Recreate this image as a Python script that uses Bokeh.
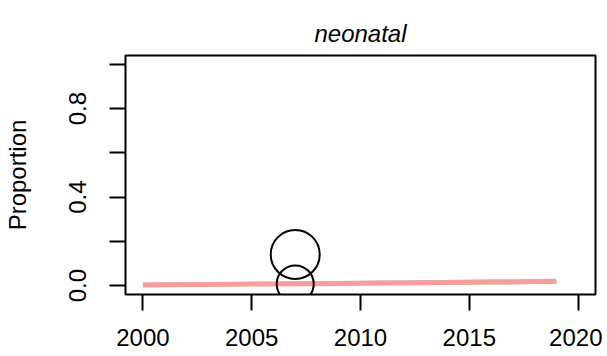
from bokeh.plotting import figure
from bokeh.models import Range1d, FixedTicker
from bokeh.embed import file_html
from bokeh.resources import INLINE

# ---- data ----
years = list(range(2000, 2020))
pink_vals = [0.003, 0.004, 0.005, 0.005, 0.006, 0.007, 0.008, 0.009, 0.009, 0.010,
             0.011, 0.012, 0.012, 0.013, 0.014, 0.015, 0.016, 0.017, 0.019, 0.020]
green_vals = [0.003, 0.004, 0.004, 0.005, 0.006, 0.007, 0.007, 0.008, 0.009, 0.010,
              0.010, 0.011, 0.012, 0.012, 0.013, 0.014, 0.015, 0.016, 0.017, 0.017]
blue_vals = [0.004, 0.005, 0.005, 0.006, 0.007, 0.008, 0.009, 0.010, 0.011, 0.012,
             0.013, 0.014, 0.015, 0.016, 0.017, 0.018, 0.019, 0.019, 0.020, 0.020]
point_years = [2007, 2007]
point_vals = [0.141, 0.008]
point_sizes = [49, 37]

x_ticks = [2000, 2005, 2010, 2015, 2020]
y_ticks = [0, 0.2, 0.4, 0.6, 0.8, 1.0]
y_tick_labels = {0: "0.0", 0.2: "", 0.4: "0.4", 0.6: "", 0.8: "0.8", 1.0: ""}

FONT = "Liberation Sans"

p = figure(frame_width=470, frame_height=239,
           min_border_left=122, min_border_right=7,
           min_border_top=55, min_border_bottom=61,
           x_range=Range1d(1999.2, 2020.8), y_range=Range1d(-0.04, 1.04),
           output_backend="svg", toolbar_location=None,
           title="neonatal")

p.title.align = "center"
p.title.text_font = FONT
p.title.text_font_size = "24px"
p.title.text_font_style = "italic"
p.title.text_color = "black"
p.title.standoff = 17

p.outline_line_color = "black"
p.outline_line_width = 2
p.background_fill_color = "white"
p.border_fill_color = "white"
p.xgrid.visible = False
p.ygrid.visible = False

for ax in (p.xaxis[0], p.yaxis[0]):
    ax.axis_line_color = None
    ax.major_tick_line_color = "black"
    ax.major_tick_line_width = 2
    ax.major_tick_out = 16
    ax.major_tick_in = 0
    ax.minor_tick_line_color = None
    ax.major_label_text_font = FONT
    ax.major_label_text_font_size = "24px"
    ax.major_label_text_color = "black"

p.xaxis.ticker = FixedTicker(ticks=x_ticks)
p.xaxis.major_label_overrides = {t: str(t) for t in x_ticks}
p.xaxis.major_label_standoff = 18

p.yaxis.ticker = FixedTicker(ticks=y_ticks)
p.yaxis.major_label_overrides = y_tick_labels
p.yaxis.major_label_orientation = "vertical"
p.yaxis.major_label_standoff = 23
p.yaxis.axis_label = "Proportion"
p.yaxis.axis_label_text_font = FONT
p.yaxis.axis_label_text_font_size = "24px"
p.yaxis.axis_label_text_font_style = "normal"
p.yaxis.axis_label_text_color = "black"
p.yaxis.axis_label_standoff = 36

p.line(years, blue_vals, line_color="#A9C8EC", line_width=4, line_alpha=0.9)
p.line(years, green_vals, line_color="#9ACD8E", line_width=4, line_alpha=0.9)
p.line(years, pink_vals, line_color="#F89C9C", line_width=5)

p.scatter(point_years, point_vals, size=point_sizes, marker="circle",
          fill_color=None, line_color="black", line_width=2)

open("out.html", "w").write(file_html(p, INLINE))
